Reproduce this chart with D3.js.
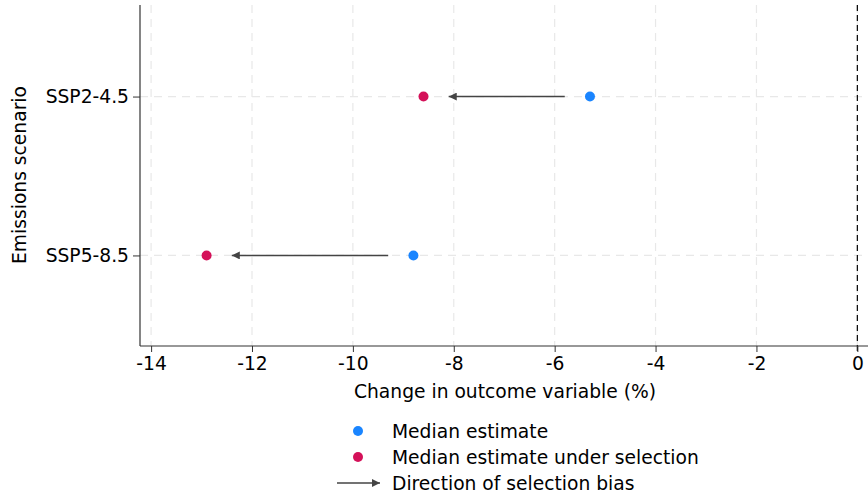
<!DOCTYPE html>
<html><head><meta charset="utf-8">
<script src="https://cdn.jsdelivr.net/npm/d3@7"></script>
<style>body{margin:0;background:#fff}svg{display:block}text{font-family:"DejaVu Sans",sans-serif;fill:#000}</style>
</head><body>
<svg id="c" width="868" height="500"></svg>
<script>
const scenarios = ["SSP2-4.5", "SSP5-8.5"];
const medianEstimate = [-5.3, -8.8];
const medianUnderSelection = [-8.6, -12.9];
const xTicks = [-14, -12, -10, -8, -6, -4, -2, 0];
const legendLabels = ["Median estimate", "Median estimate under selection", "Direction of selection bias"];
const colors = {median: "#1A85FF", selection: "#D41159", arrow: "#444"};
const arrowGap = 0.5;
const FS = "18.7px";

const svg = d3.select("#c");
const m = {l: 140, t: 5, b: 346};
const x = d3.scaleLinear().domain([-14.22, 0.35]).range([140, 875]);
const y = d3.scalePoint().domain(scenarios).range([6, m.b]).padding(0.57);

svg.append("defs").append("marker").attr("id","ah").attr("viewBox","0 0 10 10")
  .attr("refX",10).attr("refY",5).attr("markerWidth",8).attr("markerHeight",8)
  .attr("markerUnits","userSpaceOnUse").attr("orient","auto")
  .append("path").attr("d","M0,0L10,5L0,10Z").attr("fill",colors.arrow);

// grid
const g = svg.append("g");
g.selectAll(".vg").data(xTicks).join("line").attr("x1",d=>x(d)).attr("x2",d=>x(d))
  .attr("y1",m.t).attr("y2",m.b).attr("stroke","#e8e8e8").attr("stroke-width",1.2).attr("stroke-dasharray","8,6");
g.selectAll(".hg").data(scenarios).join("line").attr("x1",140).attr("x2",868)
  .attr("y1",d=>y(d)).attr("y2",d=>y(d)).attr("stroke","#e8e8e8").attr("stroke-width",1.2).attr("stroke-dasharray","8,6");

// zero line
svg.append("line").attr("x1",x(0)).attr("x2",x(0)).attr("y1",m.t).attr("y2",m.b+8)
  .attr("stroke","#000").attr("stroke-width",1.2).attr("stroke-dasharray","6,4");

// axes
const xa = svg.append("g").attr("transform",`translate(0,${m.b})`)
  .call(d3.axisBottom(x).tickValues(xTicks).tickSize(6).tickPadding(5).tickFormat(d=>d));
xa.select(".domain").attr("stroke","#333").attr("stroke-width",1.2).attr("d",`M140,0H868`);
xa.selectAll(".tick line").attr("stroke","#333");
xa.selectAll("text").style("font-size",FS).attr("fill","#000");

const ya = svg.append("g").attr("transform",`translate(140,0)`)
  .call(d3.axisLeft(y).tickSize(7).tickPadding(4));
ya.select(".domain").attr("stroke","#333").attr("stroke-width",1.2).attr("d",`M0,${m.t}V${m.b}`);
ya.selectAll(".tick line").attr("stroke","#333");
ya.selectAll("text").style("font-size",FS).attr("fill","#000");

svg.append("text").attr("x",505).attr("y",398).attr("text-anchor","middle").style("font-size",FS)
  .text("Change in outcome variable (%)");
svg.append("text").attr("transform",`translate(26,175) rotate(-90)`).attr("text-anchor","middle").style("font-size",FS)
  .text("Emissions scenario");

// arrows
svg.selectAll(".arr").data(scenarios).join("line")
  .attr("x1",(d,i)=>x(medianEstimate[i]-arrowGap)).attr("x2",(d,i)=>x(medianUnderSelection[i]+arrowGap))
  .attr("y1",d=>y(d)).attr("y2",d=>y(d)).attr("stroke",colors.arrow).attr("stroke-width",1.5).attr("marker-end","url(#ah)");

svg.selectAll(".pm").data(scenarios).join("circle").attr("cx",(d,i)=>x(medianEstimate[i])).attr("cy",d=>y(d))
  .attr("r",5).attr("fill",colors.median);
svg.selectAll(".ps").data(scenarios).join("circle").attr("cx",(d,i)=>x(medianUnderSelection[i])).attr("cy",d=>y(d))
  .attr("r",5).attr("fill",colors.selection);

// legend
const lg = svg.append("g");
const ly = [431, 457, 483];
lg.append("circle").attr("cx",358).attr("cy",ly[0]).attr("r",5).attr("fill",colors.median);
lg.append("circle").attr("cx",358).attr("cy",ly[1]).attr("r",5).attr("fill",colors.selection);
lg.append("line").attr("x1",337).attr("x2",380).attr("y1",ly[2]).attr("y2",ly[2])
  .attr("stroke",colors.arrow).attr("stroke-width",1.5).attr("marker-end","url(#ah)");
lg.selectAll(".lt").data(legendLabels).join("text").attr("x",392).attr("y",(d,i)=>ly[i]).attr("dy","0.35em")
  .style("font-size",FS).text(d=>d);
</script>
</body></html>
